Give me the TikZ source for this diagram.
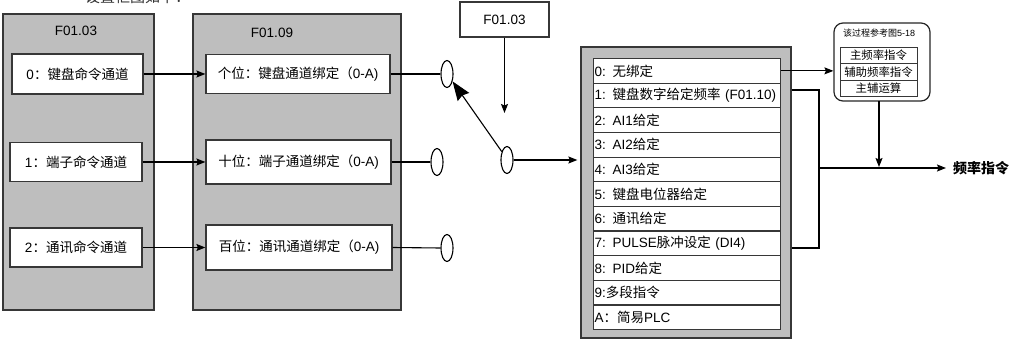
\documentclass[tikz,border=0pt]{standalone}
\usepackage{fontspec}
\setmainfont{Liberation Sans}
\newfontfamily\cjk{Noto Sans CJK SC}
\newcommand\zh[1]{{\cjk #1}}
\usetikzlibrary{arrows.meta,shapes.geometric,calc}
\definecolor{boxgray}{RGB}{190,190,190}
\definecolor{edge}{RGB}{55,55,55}
\tikzset{
  graybox/.style={draw=edge, fill=boxgray, line width=1.3pt, inner sep=0pt},
  wbox/.style={draw=edge, fill=white, line width=1.2pt, inner sep=0pt, font=\fontsize{13.5pt}{16pt}\selectfont},
  rowbox/.style={draw=edge, fill=white, line width=1.1pt, inner sep=1pt, anchor=north west,
     minimum width=187pt, minimum height=24.64pt, text width=185pt, align=left, font=\fontsize{13.5pt}{16pt}\selectfont},
  subrow/.style={draw=edge, fill=white, line width=1pt, inner sep=0pt, anchor=north,
     minimum width=77pt, minimum height=16.3pt, font=\fontsize{11.4pt}{13pt}\selectfont},
  title/.style={font=\fontsize{13.5pt}{16pt}\selectfont, inner sep=0pt},
  sw/.style={draw=black, ellipse, line width=1.1pt, minimum width=12pt, minimum height=27pt, inner sep=0pt},
  conn/.style={draw=black, line width=1.1pt},
  arr/.style={conn, -{Stealth[length=9pt,width=7pt,inset=1.5pt]}},
}
\begin{document}
\begin{tikzpicture}[x=1pt,y=-1pt]
\useasboundingbox (0,0) rectangle (1015,339);
\clip (0,0) rectangle (1015,339);

% cut-off heading (cut at the top edge, as in the reference)
\node[anchor=base west, inner sep=0pt, font=\fontsize{15pt}{17pt}\selectfont, text=black!80] (head) at (85,3) {\zh{设置框图如下：}};

% left column
\node[graybox, minimum width=151pt, minimum height=296pt] (g1) at (78.5,162) {};
\node[title] (t1) at (76,31) {F01.03};
\node[wbox, minimum width=131pt, minimum height=40pt] (k0) at (77.5,74) {0\zh{：键盘命令通道}};
\node[wbox, minimum width=132pt, minimum height=39pt] (k1) at (76,162) {1\zh{：端子命令通道}};
\node[wbox, minimum width=132pt, minimum height=39pt] (k2) at (76,247.5) {2\zh{：通讯命令通道}};

% F01.09 column
\node[graybox, minimum width=208pt, minimum height=296pt] (g2) at (297,162) {};
\node[title] (t2) at (272,33) {F01.09};
\node[wbox, minimum width=184pt, minimum height=39pt] (a) at (298,74) {\zh{个位：键盘通道绑定（}0-A)};
\node[wbox, minimum width=185pt, minimum height=44pt] (b) at (298.5,162) {\zh{十位：端子通道绑定（}0-A)};
\node[wbox, minimum width=186pt, minimum height=45pt] (c) at (299,247.5) {\zh{百位：通讯通道绑定（}0-A)};

\draw[arr] (k0.east) -- (a.west);
\draw[arr] (k1.east) -- (b.west);
\draw[arr] (k2.east) -- (c.west);

% switch contacts
\node[sw] (e1) at (447,74) {};
\node[sw] (e2) at (437,162) {};
\node[sw] (e3) at (447,248) {};
\node[sw] (s) at (507,160) {};
\draw[conn] (a.east) -- (e1.west);
\draw[conn] (b.east) -- (e2.west);
\draw[conn] (c.east) -- (e3.west);
\draw[conn, -{Stealth[length=19pt,width=14pt,inset=2pt]}] (s.122) -- (e1.-53);

% selector F01.03
\node[wbox, minimum width=89pt, minimum height=35pt] (top) at (504.5,19.5) {F01.03};
\coordinate (topend) at (504.5,113);
\draw[arr] (top.south) -- (topend);

% frequency source list
\node[graybox, minimum width=210pt, minimum height=291pt] (g3) at (686,192.5) {};
\draw[arr, shorten >=3pt] (s.east) -- (s.east -| g3.west);
\node[rowbox] (r0) at (593,58) {0: \zh{无绑定}};
\node[rowbox] (r1) at (593,82.64) {1: \zh{键盘数字给定频率} (F01.10)};
\node[rowbox] (r2) at (593,107.28) {2: AI1\zh{给定}};
\node[rowbox] (r3) at (593,131.92) {3: AI2\zh{给定}};
\node[rowbox] (r4) at (593,156.56) {4: AI3\zh{给定}};
\node[rowbox] (r5) at (593,181.2) {5: \zh{键盘电位器给定}};
\node[rowbox] (r6) at (593,205.84) {6: \zh{通讯给定}};
\node[rowbox] (r7) at (593,230.48) {7: PULSE\zh{脉冲设定} (DI4)};
\node[rowbox] (r8) at (593,255.12) {8: PID\zh{给定}};
\node[rowbox] (r9) at (593,279.76) {9:\zh{多段指令}};
\node[rowbox] (rA) at (593,304.4) {A\zh{：简易}PLC};

% main/aux box
\node[draw=black!85, fill=white, line width=1.2pt, rounded corners=9pt, minimum width=96pt, minimum height=78pt] (rb) at (882,62) {};
\node[inner sep=0pt, font=\fontsize{9pt}{10pt}\selectfont] (rbt) at (879,33) {\zh{该过程参考图}5-18};
\node[subrow] (m1) at (878.5,47) {\zh{主频率指令}};
\node[subrow] (m2) at (878.5,63.3) {\zh{辅助频率指令}};
\node[subrow] (m3) at (878.5,79.6) {\zh{主辅运算}};

\draw[arr] (r0.east) -- (r0.east -| rb.west);

% bracket and output
\coordinate (bt) at (819,90);
\coordinate (bb) at (819,248);
\coordinate (bo) at (819,168);
\draw[conn] (bt -| g3.east) -- (bt) -- (bb) -- (bb -| g3.east);
\node[anchor=west, inner sep=0pt, font=\fontsize{14pt}{16pt}\selectfont] (out) at (953,168) {{\cjk\bfseries 频率指令}};
\draw[arr, shorten >=7pt] (bo) -- (out.west);
\coordinate (rbs) at (879,101);
\coordinate (vend) at (879,167);
\draw[arr] (rbs) -- (vend);
\end{tikzpicture}
\end{document}
